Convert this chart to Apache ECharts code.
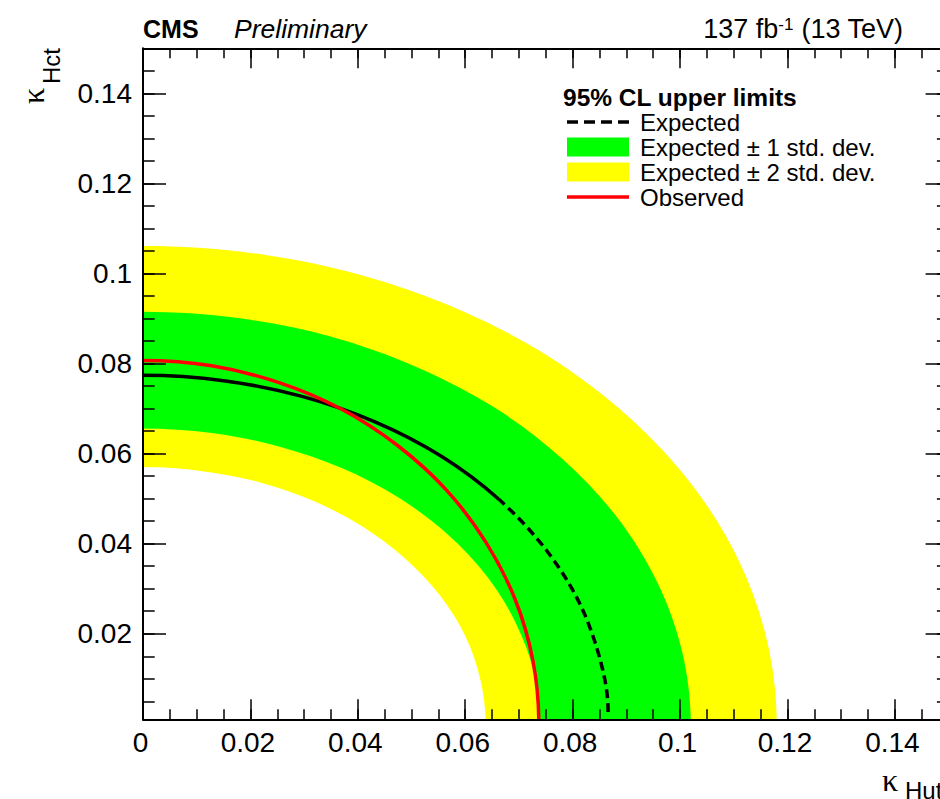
<!DOCTYPE html>
<html>
<head>
<meta charset="utf-8">
<script src="https://cdn.jsdelivr.net/npm/echarts@6/dist/echarts.min.js"></script>
<style>
html, body { margin: 0; padding: 0; overflow: hidden; background: #fff; }
#main { width: 980px; height: 799px; }
</style>
</head>
<body>
<div id="main"></div>
<script>
// ---- tick values ----
const xMajorTicks = [0, 0.02, 0.04, 0.06, 0.08, 0.1, 0.12, 0.14];
const yMajorTicks = [0.02, 0.04, 0.06, 0.08, 0.1, 0.12, 0.14];
const minorTicks = [0, 0.005, 0.01, 0.015, 0.02, 0.025, 0.03, 0.035, 0.04, 0.045, 0.05, 0.055, 0.06, 0.065,
  0.07, 0.075, 0.08, 0.085, 0.09, 0.095, 0.1, 0.105, 0.11, 0.115, 0.12, 0.125, 0.13, 0.135, 0.14, 0.145];

// ---- contours: [kappa_Hut, kappa_Hct] ----
const band2Outer = [[0.1180,0],[0.1162,0.0184],[0.1109,0.0363],[0.1022,0.0531],[0.0904,0.0682],[0.0759,0.0813],[0.0590,0.0919],[0.0404,0.0997],[0.0205,0.1045],[0,0.1061]];
const band1Outer = [[0.1020,0],[0.1004,0.0159],[0.0958,0.0313],[0.0883,0.0458],[0.0781,0.0588],[0.0656,0.0701],[0.0510,0.0792],[0.0349,0.0860],[0.0177,0.0901],[0,0.0915]];
const band1Inner = [[0.0739,0],[0.0728,0.0114],[0.0694,0.0224],[0.0640,0.0328],[0.0566,0.0422],[0.0475,0.0503],[0.0370,0.0568],[0.0253,0.0616],[0.0128,0.0646],[0,0.0656]];
const band2Inner = [[0.0638,0],[0.0628,0.0099],[0.0600,0.0195],[0.0553,0.0285],[0.0489,0.0366],[0.0410,0.0437],[0.0319,0.0494],[0.0218,0.0536],[0.0111,0.0561],[0,0.0570]];
const expectedDashed = [[0.0866,0.0026],[0.0853,0.0134],[0.0814,0.0265],[0.0750,0.0387],[0.0663,0.0498]];
const expectedDense = [[0.0663,0.0498],[0.0557,0.0593],[0.0433,0.0670],[0.0296,0.0727],[0.0150,0.0762],[0,0.0774]];
const observed = [[0.0737,0],[0.0726,0.0140],[0.0693,0.0276],[0.0638,0.0404],[0.0565,0.0519],[0.0474,0.0618],[0.0369,0.0699],[0.0252,0.0758],[0.0128,0.0795],[0,0.0807]];

const legendNames = ['Expected', 'Expected \u00b1 1 std. dev.', 'Expected \u00b1 2 std. dev.', 'Observed'];

const FONT = 'Liberation Sans';
const XMIN = 0, XMAX = 0.15, YMIN = 0.001, YMAX = 0.15;

function fmt(v) { return v === 0 ? '0' : String(parseFloat(v.toFixed(3))); }

// mirror helpers (curve meets an axis at right angles)
function mirrorH(a, b) { return [b[0], 2 * a[1] - b[1]]; }   // across horizontal line through a
function mirrorV(a, b) { return [2 * a[0] - b[0], b[1]]; }   // across vertical line through a
function endPoint(mode, a, b) {
  if (mode === 'h') return mirrorH(a, b);
  if (mode === 'v') return mirrorV(a, b);
  if (Array.isArray(mode)) return mode;
  return [2 * a[0] - b[0], 2 * a[1] - b[1]];
}
// Catmull-Rom spline through pixel points -> cubic bezier segments
function crSegments(pts, startMode, endMode) {
  let d = '';
  const n = pts.length;
  for (let i = 0; i < n - 1; i++) {
    const p1 = pts[i], p2 = pts[i + 1];
    const p0 = i > 0 ? pts[i - 1] : endPoint(startMode, p1, p2);
    const p3 = i + 2 < n ? pts[i + 2] : endPoint(endMode, p2, p1);
    const c1 = [p1[0] + (p2[0] - p0[0]) / 6, p1[1] + (p2[1] - p0[1]) / 6];
    const c2 = [p2[0] - (p3[0] - p1[0]) / 6, p2[1] - (p3[1] - p1[1]) / 6];
    d += ' C' + c1[0] + ',' + c1[1] + ' ' + c2[0] + ',' + c2[1] + ' ' + p2[0] + ',' + p2[1];
  }
  return d;
}

function bandSeries(name, outer, inner, color) {
  return {
    name: name, type: 'custom', coordinateSystem: 'cartesian2d', data: [[0, 0.1]], clip: true, silent: true, z: 1,
    itemStyle: { color: color },
    renderItem: function (params, api) {
      const o = outer.map(p => api.coord(p));
      const inn = inner.map(p => api.coord(p)).reverse();
      const d = 'M' + o[0][0] + ',' + o[0][1] + crSegments(o, 'h', 'v') +
        ' L' + inn[0][0] + ',' + inn[0][1] + crSegments(inn, 'v', 'h') + ' Z';
      return { type: 'path', shape: { pathData: d }, style: { fill: color, stroke: null } };
    }
  };
}
function lineSeries(name, data, color, dash, startMode, endMode) {
  return {
    name: name, type: 'custom', coordinateSystem: 'cartesian2d', data: [[0, 0.1]], clip: true, silent: true, z: 3,
    itemStyle: { color: color },
    renderItem: function (params, api) {
      const p = data.map(q => api.coord(q));
      const s = Array.isArray(startMode) ? api.coord(startMode) : startMode;
      const e = Array.isArray(endMode) ? api.coord(endMode) : endMode;
      const d = 'M' + p[0][0] + ',' + p[0][1] + crSegments(p, s, e);
      return { type: 'path', shape: { pathData: d },
        style: { fill: 'none', stroke: color, lineWidth: 3.5, lineDash: dash, lineCap: 'butt', lineJoin: 'round' } };
    }
  };
}

function xAx(pos, ticks, len, withLine, withLabel) {
  return {
    type: 'value', position: pos, min: XMIN, max: XMAX, z: 10,
    axisLine: { show: withLine, onZero: false, lineStyle: { color: '#000', width: 2 } },
    axisTick: { show: true, inside: true, length: len, customValues: ticks, lineStyle: { color: '#000', width: 1.5 } },
    axisLabel: withLabel ? { show: true, customValues: ticks, formatter: fmt, margin: 9, fontSize: 28,
      fontFamily: FONT, color: '#000', padding: [0, 5, 0, 0] } : { show: false },
    splitLine: { show: false }, minorTick: { show: false }
  };
}
function yAx(pos, ticks, len, withLine, withLabel) {
  return {
    type: 'value', position: pos, min: YMIN, max: YMAX, z: 10,
    axisLine: { show: withLine, onZero: false, lineStyle: { color: '#000', width: 2 } },
    axisTick: { show: true, inside: true, length: len, customValues: ticks, lineStyle: { color: '#000', width: 1.5 } },
    axisLabel: withLabel ? { show: true, customValues: ticks, formatter: fmt, margin: 11, fontSize: 28,
      fontFamily: FONT, color: '#000', padding: [9, 0, 0, 0] } : { show: false },
    splitLine: { show: false }, minorTick: { show: false }
  };
}

const chart = echarts.init(document.getElementById('main'), null, { renderer: 'svg' });
chart.setOption({
  animation: false,
  backgroundColor: '#fff',
  grid: { left: 143, top: 48.3, width: 805.6, height: 671, containLabel: false },
  xAxis: [
    xAx('bottom', xMajorTicks, 20, true, true),
    xAx('bottom', minorTicks, 10, false, false),
    xAx('top', xMajorTicks, 20, true, false),
    xAx('top', minorTicks, 10, false, false)
  ],
  yAxis: [
    yAx('left', yMajorTicks, 23, true, true),
    yAx('left', minorTicks, 11.7, false, false),
    yAx('right', yMajorTicks, 23, true, false),
    yAx('right', minorTicks, 11.7, false, false)
  ],
  legend: {
    orient: 'vertical', left: 567, top: 110, padding: 0,
    itemWidth: 62, itemHeight: 19, itemGap: 1, selectedMode: false,
    textStyle: { fontSize: 24, fontFamily: FONT, color: '#000', padding: [0, 0, 0, 6] },
    data: [
      { name: legendNames[0], icon: 'path://M0,0h11v3.5h-11zM17,0h11v3.5h-11zM34,0h11v3.5h-11zM51,0h11v3.5h-11z', itemStyle: { color: '#000', borderWidth: 0 } },
      { name: legendNames[1], icon: 'rect', itemStyle: { color: '#00ff00', borderWidth: 0 } },
      { name: legendNames[2], icon: 'rect', itemStyle: { color: '#ffff00', borderWidth: 0 } },
      { name: legendNames[3], icon: 'path://M0,0h62v3.5h-62z', itemStyle: { color: '#ff0000', borderWidth: 0 } }
    ]
  },
  series: [
    bandSeries(legendNames[2], band2Outer, band2Inner, '#ffff00'),
    bandSeries(legendNames[1], band1Outer, band1Inner, '#00ff00'),
    lineSeries(legendNames[0], expectedDashed, '#000000', [9, 5], 'h', expectedDense[1]),
    lineSeries('Expected (dense segment)', expectedDense, '#000000', null, expectedDashed[expectedDashed.length - 2], 'v'),
    lineSeries(legendNames[3], observed, '#ff0000', null, 'h', 'v')
  ],
  graphic: [
    { type: 'text', x: 143, y: 29, z: 20, style: { text: 'CMS', fontSize: 25, fontWeight: 'bold', fontFamily: FONT, fill: '#000', verticalAlign: 'middle' } },
    { type: 'text', x: 234, y: 29, z: 20, style: { text: 'Preliminary', fontSize: 26.5, fontStyle: 'italic', fontFamily: FONT, fill: '#000', verticalAlign: 'middle' } },
    { type: 'text', x: 903, y: 29, z: 20, style: { text: '{a|137 fb}{s|-1}{a| (13 TeV)}', align: 'right', verticalAlign: 'middle',
        rich: { a: { fontSize: 27, fontFamily: FONT, fill: '#000' }, s: { fontSize: 17, fontFamily: FONT, fill: '#000', verticalAlign: 'top' } } } },
    { type: 'text', x: 563, y: 97, z: 20, style: { text: '95% CL upper limits', fontSize: 24.5, fontWeight: 'bold', fontFamily: FONT, fill: '#000', verticalAlign: 'middle' } },
    { type: 'text', x: 882, y: 780, z: 20, style: { text: '\u03ba', fontSize: 32, fontFamily: 'Liberation Serif', fill: '#000', verticalAlign: 'middle' } },
    { type: 'text', x: 905, y: 790, z: 20, style: { text: 'Hut', fontSize: 24, fontFamily: FONT, fill: '#000', verticalAlign: 'middle' } },
    { type: 'text', x: 33, y: 96, rotation: Math.PI / 2, z: 20, style: { text: '\u03ba', fontSize: 32, fontFamily: 'Liberation Serif', fill: '#000', align: 'center', verticalAlign: 'middle' } },
    { type: 'text', x: 51, y: 66, rotation: Math.PI / 2, z: 20, style: { text: 'Hct', fontSize: 24, fontFamily: FONT, fill: '#000', align: 'center', verticalAlign: 'middle' } }
  ]
});
</script>
</body>
</html>
